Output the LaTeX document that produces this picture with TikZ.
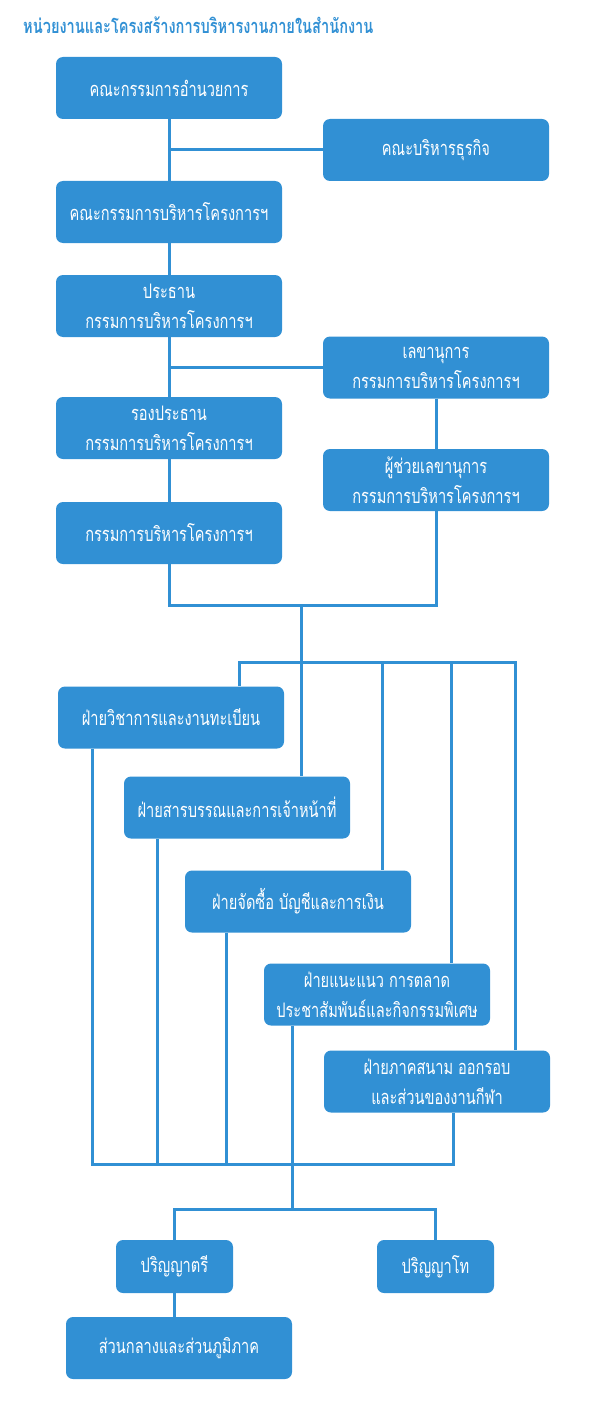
\documentclass[tikz,border=0pt]{standalone}
\usepackage{fontspec}
\newfontfamily\thai[Script=Thai,FakeStretch=0.73]{Loma}
\definecolor{bx}{HTML}{3190D4}
\begin{document}
\begin{tikzpicture}[x=1pt,y=-1pt,
  box/.style={fill=bx,rounded corners=7pt,minimum width=226pt,minimum height=62pt,inner sep=0pt,
    text=white,align=center,font=\thai\fontsize{20}{30}\selectfont},
  smallbox/.style={box,minimum width=117pt,minimum height=53pt},
  conn/.style={draw=bx,line width=3pt}]
\useasboundingbox (0,0) rectangle (600,1407);
\node[anchor=west,text=bx,font=\thai\bfseries\fontsize{20}{22}\selectfont,inner sep=0pt] (title) at (23,25) {หน่วยงานและโครงสร้างการบริหารงานภายในสำนักงาน};
% upper part
\node[box] (b1) at (169,88) {คณะกรรมการอำนวยการ};
\node[box] (b2) at (436,150) {คณะบริหารธุรกิจ};
\node[box] (b3) at (169,212) {คณะกรรมการบริหารโครงการฯ};
\node[box] (b4) at (169,306) {ประธาน\\กรรมการบริหารโครงการฯ};
\node[box] (b5) at (436,367.5) {เลขานุการ\\กรรมการบริหารโครงการฯ};
\node[box] (b6) at (169,428) {รองประธาน\\กรรมการบริหารโครงการฯ};
\node[box] (b7) at (436,480) {ผู้ช่วยเลขานุการ\\กรรมการบริหารโครงการฯ};
\node[box] (b8) at (169,533) {กรรมการบริหารโครงการฯ};
% divisions
\node[box] (d1) at (171,717.5) {ฝ่ายวิชาการและงานทะเบียน};
\node[box] (d2) at (237,807.5) {ฝ่ายสารบรรณและการเจ้าหน้าที่};
\node[box] (d3) at (298,901.5) {ฝ่ายจัดซื้อ บัญชีและการเงิน};
\node[box] (d4) at (377,994.5) {ฝ่ายแนะแนว การตลาด\\ประชาสัมพันธ์และกิจกรรมพิเศษ};
\node[box] (d5) at (437,1081.5) {ฝ่ายภาคสนาม ออกรอบ\\และส่วนของงานกีฬา};
% degrees
\node[smallbox] (p1) at (174.5,1266.5) {ปริญญาตรี};
\node[smallbox] (p2) at (435.5,1266.5) {ปริญญาโท};
\node[box] (r) at (179,1348) {ส่วนกลางและส่วนภูมิภาค};
% connector coordinates
\coordinate (j) at (301,605);
\coordinate (t1) at (239,662);
\coordinate (t3) at (382,662);
\coordinate (t4) at (451,662);
\coordinate (t5) at (515,662);
\coordinate (u1) at (92,1164);
\coordinate (u2) at (157,1164);
\coordinate (u3) at (226,1164);
\coordinate (u5) at (453,1164);
\coordinate (k) at (292,1209);
% connectors
\draw[conn] (b1.south) -- (b3.north);
\draw[conn] (b1.south |- b2.west) -- (b2.west);
\draw[conn] (b3.south) -- (b4.north);
\draw[conn] (b4.south) -- (b6.north);
\draw[conn] (b4.south |- b5.west) -- (b5.west);
\draw[conn] (b6.south) -- (b8.north);
\draw[conn] (b5.south) -- (b7.north);
\draw[conn] (b8.south) |- (j) -| (b7.south);
\draw[conn] (j) -- (j |- d2.north);
\draw[conn] (t1 |- d1.north) -- (t1) -- (t5) -- (t5 |- d5.north);
\draw[conn] (t3) -- (t3 |- d3.north);
\draw[conn] (t4) -- (t4 |- d4.north);
\draw[conn] (u1 |- d1.south) -- (u1) -- (u5) -- (u5 |- d5.south);
\draw[conn] (u2 |- d2.south) -- (u2);
\draw[conn] (u3 |- d3.south) -- (u3);
\draw[conn] (k |- d4.south) -- (k);
\draw[conn] (p1.north) |- (k) -| (p2.north);
\draw[conn] (p1.south) -- (p1.south |- r.north);
\end{tikzpicture}
\end{document}
